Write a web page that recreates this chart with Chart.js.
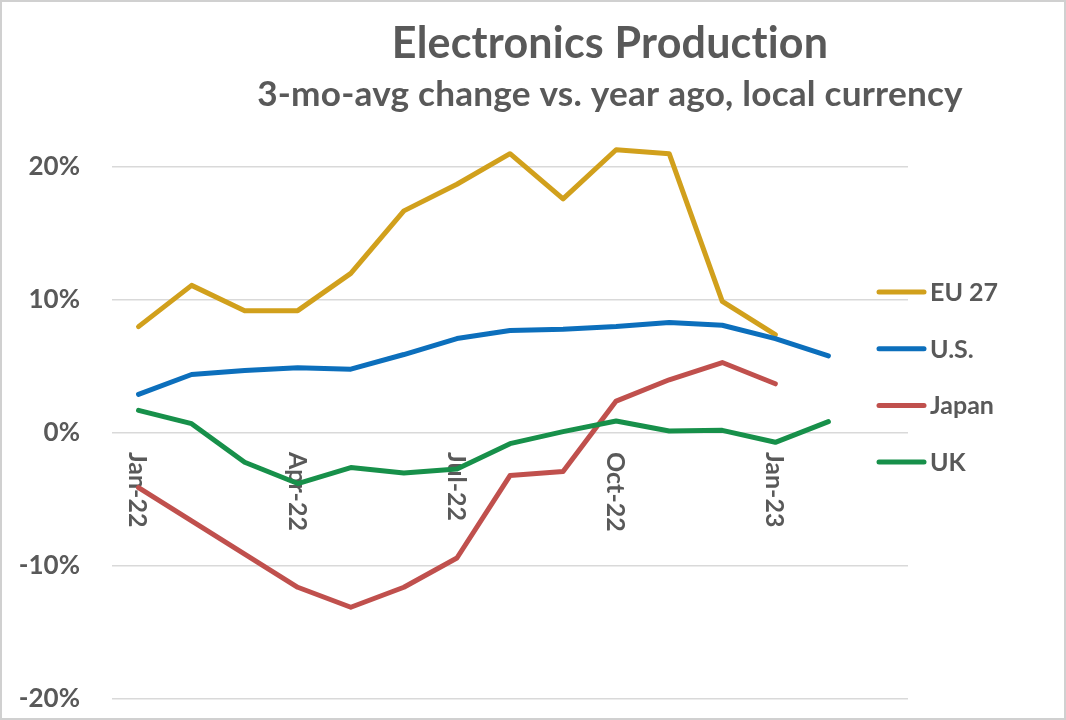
<!DOCTYPE html>
<html>
<head>
<meta charset="utf-8">
<script src="https://cdn.jsdelivr.net/npm/chart.js@4.4.1/dist/chart.umd.min.js"></script>
<style>
  body { margin: 0; background: #fff; }
  #wrap { width: 1066px; height: 720px; }
</style>
</head>
<body>
<div id="wrap"><canvas id="prodChart" width="1066" height="720"></canvas></div>
<script>
// --- Data ---
const months = ['Jan-22', 'Feb-22', 'Mar-22', 'Apr-22', 'May-22', 'Jun-22', 'Jul-22', 'Aug-22',
                'Sep-22', 'Oct-22', 'Nov-22', 'Dec-22', 'Jan-23', 'Feb-23', 'Mar-23'];
const shownMonths = ['Jan-22', 'Apr-22', 'Jul-22', 'Oct-22', 'Jan-23'];
const yTicks = [-20, -10, 0, 10, 20];

const eu27 = [8.0, 11.1, 9.2, 9.2, 12.0, 16.7, 18.7, 21.0, 17.6, 21.3, 21.0, 9.9, 7.4, null, null];
const us = [2.9, 4.4, 4.7, 4.9, 4.8, 5.9, 7.1, 7.7, 7.8, 8.0, 8.3, 8.1, 7.1, 5.8, null];
const japan = [-4.1, -6.6, -9.1, -11.6, -13.1, -11.6, -9.4, -3.2, -2.9, 2.4, 4.0, 5.3, 3.7, null, null];
const uk = [1.7, 0.7, -2.2, -3.8, -2.6, -3.0, -2.7, -0.8, 0.1, 0.9, 0.15, 0.2, -0.7, 0.85, null];

const TEXT = '#595959';
const FONT = 'Lato, "Open Sans", sans-serif';

function series(label, data, color, order) {
    return {
        label: label,
        data: data,
        borderColor: color,
        backgroundColor: color,
        borderWidth: 5,
        pointRadius: 0,
        tension: 0,
        clip: false,
        borderCapStyle: 'round',
        borderJoinStyle: 'round',
        order: order
    };
}

// fit a line of text to a given width
function fitText(ctx, text, cx, baseline, width) {
    ctx.font = 'bold 100px ' + FONT;
    const size = 100 * width / ctx.measureText(text).width;
    ctx.font = 'bold ' + size.toFixed(1) + 'px ' + FONT;
    ctx.textAlign = 'center';
    ctx.textBaseline = 'alphabetic';
    ctx.fillText(text, cx, baseline);
}

// titles, rotated month labels on the zero line, legend on the right
const decorPlugin = {
    id: 'decor',
    beforeDraw(chart) {
        const ctx = chart.ctx;
        ctx.save();
        ctx.fillStyle = '#fff';
        ctx.fillRect(0, 0, chart.width, chart.height);
        ctx.strokeStyle = '#d0d0d0';
        ctx.lineWidth = 2;
        ctx.strokeRect(1, 1, chart.width - 2, chart.height - 2);
        ctx.restore();
    },
    beforeDatasetsDraw(chart) {
        // x labels under the lines, reading top to bottom
        const ctx = chart.ctx;
        const xs = chart.scales.x;
        const y0 = chart.scales.y.getPixelForValue(0) + 19;
        ctx.save();
        ctx.fillStyle = TEXT;
        ctx.font = 'bold 25px ' + FONT;
        ctx.textAlign = 'left';
        ctx.textBaseline = 'middle';
        shownMonths.forEach(m => {
            const x = xs.getPixelForValue(months.indexOf(m));
            ctx.save();
            ctx.translate(x - 1, y0);
            ctx.rotate(Math.PI / 2);
            ctx.fillText(m, 0, 0);
            ctx.restore();
        });
        ctx.restore();
    },
    afterDraw(chart) {
        const ctx = chart.ctx;
        ctx.save();
        ctx.fillStyle = TEXT;
        // a little spacing stops Lato from joining "ti"
        ctx.letterSpacing = '0.2px';
        fitText(ctx, 'Electronics Production', 610, 58, 434);
        fitText(ctx, '3-mo-avg change vs. year ago, local currency', 610, 106, 700);
        ctx.letterSpacing = '0px';

        // legend
        ctx.font = 'bold 25px ' + FONT;
        ctx.textAlign = 'left';
        ctx.textBaseline = 'middle';
        chart.data.datasets.forEach((ds, i) => {
            const ly = 292 + i * 56.7;
            ctx.strokeStyle = ds.borderColor;
            ctx.lineWidth = 5;
            ctx.lineCap = 'round';
            ctx.beginPath();
            ctx.moveTo(879, ly);
            ctx.lineTo(924, ly);
            ctx.stroke();
            ctx.fillStyle = TEXT;
            ctx.fillText(ds.label, 930, ly + 1);
        });
        ctx.restore();
    }
};

document.addEventListener("DOMContentLoaded", () => {
    const ctx = document.getElementById('prodChart').getContext('2d');

    new Chart(ctx, {
        type: 'line',
        data: {
            labels: months,
            datasets: [
                series('EU 27', eu27, '#D1A01C', 3),
                series('U.S.', us, '#0C6FBC', 2),
                series('Japan', japan, '#C0504D', 1),
                series('UK', uk, '#17904A', 0)
            ]
        },
        options: {
            responsive: false,
            animation: false,
            layout: { padding: { top: 167, right: 158, bottom: 21, left: 0 } },
            plugins: {
                legend: { display: false },
                tooltip: { enabled: false }
            },
            scales: {
                x: {
                    display: false,
                    offset: true
                },
                y: {
                    min: yTicks[0],
                    max: yTicks[yTicks.length - 1],
                    afterBuildTicks: (scale) => {
                        scale.ticks = yTicks.map(v => ({ value: v }));
                    },
                    afterFit: (scale) => {
                        scale.width = 112;
                        // tick padding is horizontal here, don't let it eat the bottom
                        scale.paddingTop = 0;
                        scale.paddingBottom = 0;
                    },
                    border: { display: false },
                    grid: { color: '#d9d9d9', lineWidth: 1.5, drawTicks: false },
                    ticks: {
                        padding: 32,
                        color: TEXT,
                        font: { family: FONT, weight: 'bold', size: 26 },
                        callback: (v) => v + '%'
                    }
                }
            }
        },
        plugins: [decorPlugin]
    });
});
</script>
</body>
</html>
